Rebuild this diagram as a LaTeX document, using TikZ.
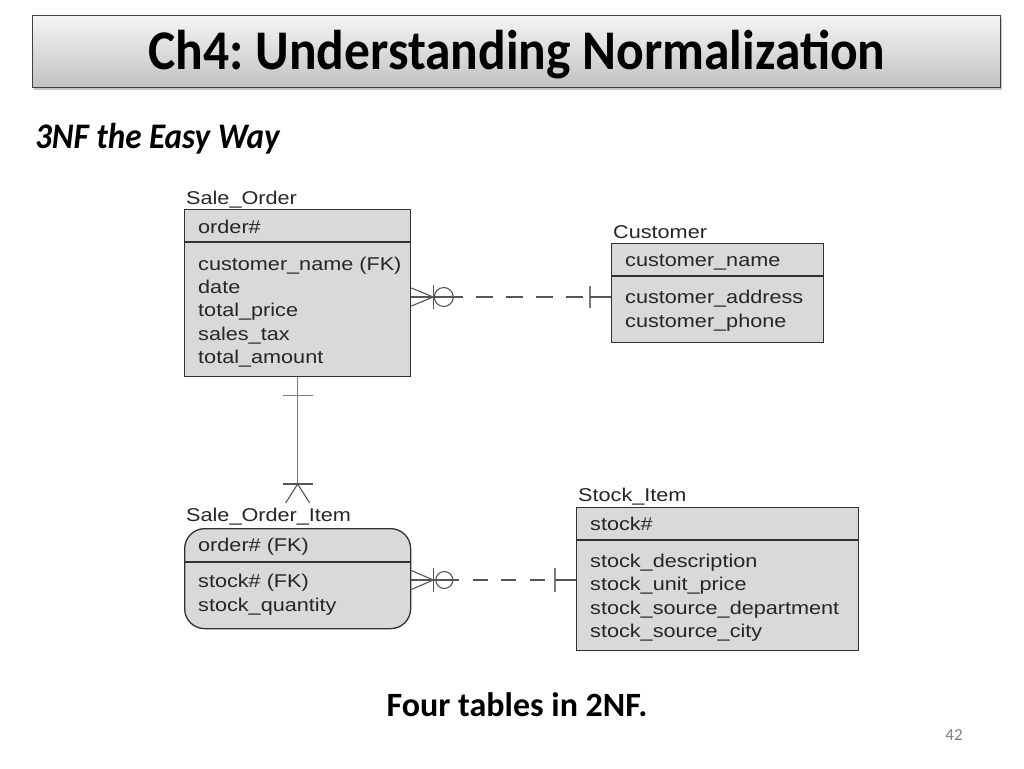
\documentclass[tikz,border=0pt]{standalone}
\usepackage{fontspec}
\setmainfont{Carlito}
\newfontfamily\titlefont[FakeStretch=0.92]{Carlito}
\newfontfamily\erfont[FakeStretch=1.17]{Liberation Sans}
\usetikzlibrary{calc,shadows}
\definecolor{boxfill}{HTML}{D9D9D9}
\definecolor{boxline}{HTML}{303030}
\definecolor{ertext}{HTML}{262626}
\definecolor{connline}{HTML}{555555}
\definecolor{barline}{HTML}{7A7A7A}
\frenchspacing
\begin{document}
\begin{tikzpicture}[x=1pt,y=-1pt,
  entity/.style={draw=boxline, line width=1.3pt, fill=boxfill, rectangle, inner sep=0pt, anchor=north west},
  sepline/.style={draw=boxline, line width=1.3pt},
  ertxt/.style={font=\erfont\fontsize{18.5}{22}\selectfont, text=ertext, inner sep=0pt, anchor=base west},
  conn/.style={draw=connline, line width=1.1pt},
  softbar/.style={draw=barline, line width=1.4pt},
]
\useasboundingbox (0,0) rectangle (1024,768);
\fill[white] (0,0) rectangle (1024,768);

% title bar
\node[draw=black!75, line width=0.9pt, top color=black!4, bottom color=black!24,
      minimum width=968pt, minimum height=72pt, inner sep=0pt, anchor=north west,
      drop shadow={shadow xshift=1.5pt, shadow yshift=-2.5pt, opacity=0.45}] (bar) at (32,15) {};
\node[font=\titlefont\fontsize{56}{64}\selectfont\bfseries, anchor=base, inner sep=0pt] (title) at (517,70) {Ch4: Understanding Normalization};
\node[font=\titlefont\fontsize{36}{42}\selectfont\bfseries\itshape, anchor=base west, inner sep=0pt] (sub) at (35,148) {3NF the Easy Way};
\node[font=\fontsize{34}{40}\selectfont\bfseries, anchor=base, inner sep=0pt] (cap) at (517,716) {Four tables in 2NF.};
\node[font=\fontsize{17}{20}\selectfont, text=black!50, anchor=base, inner sep=0pt] (pg) at (954,740) {42};

% entities
\node[entity, minimum width=226pt, minimum height=167pt] (so) at (184,209) {};
\draw[sepline] (so.west |- 0,242) -- (so.east |- 0,242);
\node[entity, minimum width=212pt, minimum height=99pt] (cu) at (611,243) {};
\draw[sepline] (cu.west |- 0,276) -- (cu.east |- 0,276);
\node[entity, rounded corners=20pt, minimum width=226pt, minimum height=100pt] (soi) at (184,528) {};
\draw[sepline] (soi.west |- 0,562) -- (soi.east |- 0,562);
\node[entity, minimum width=282pt, minimum height=143pt] (si) at (576,507) {};
\draw[sepline] (si.west |- 0,540) -- (si.east |- 0,540);

% Sale_Order texts
\node[ertxt] (so-l) at (186,204.5) {Sale\_Order};
\node[ertxt] (so-k) at (198,233.5) {order\#};
\node[ertxt] (so-1) at (198,270.5) {customer\_name (FK)};
\node[ertxt] (so-2) at (198,293.7) {date};
\node[ertxt] (so-3) at (198,316.9) {total\_price};
\node[ertxt] (so-4) at (198,340.1) {sales\_tax};
\node[ertxt] (so-5) at (198,363.3) {total\_amount};

% Customer texts
\node[ertxt] (cu-l) at (613,238.5) {Customer};
\node[ertxt] (cu-k) at (625,266.5) {customer\_name};
\node[ertxt] (cu-1) at (625,303.5) {customer\_address};
\node[ertxt] (cu-2) at (625,327.5) {customer\_phone};

% Sale_Order_Item texts
\node[ertxt] (soi-l) at (186,521.5) {Sale\_Order\_Item};
\node[ertxt] (soi-k) at (198,551.5) {order\# (FK)};
\node[ertxt] (soi-1) at (198,587.5) {stock\# (FK)};
\node[ertxt] (soi-2) at (198,611.5) {stock\_quantity};

% Stock_Item texts
\node[ertxt] (si-l) at (578,501.5) {Stock\_Item};
\node[ertxt] (si-k) at (590,530.5) {stock\#};
\node[ertxt] (si-1) at (590,567.5) {stock\_description};
\node[ertxt] (si-2) at (590,590.8) {stock\_unit\_price};
\node[ertxt] (si-3) at (590,614.1) {stock\_source\_department};
\node[ertxt] (si-4) at (590,637.4) {stock\_source\_city};

% connector Sale_Order -- Customer
\coordinate (c1a) at (so.east |- 0,297);
\coordinate (c1b) at (cu.west |- 0,297);
\coordinate (c1s) at ($(c1a)+(52,0)$);
\coordinate (c1t) at ($(c1b)+(-21,0)$);
\draw[conn] (c1a) -- (c1s);
\draw[conn] ($(c1a)+(0,-9)$) -- ($(c1a)+(22,0)$) -- ($(c1a)+(0,9)$);
\draw[conn] ($(c1a)+(22,-12)$) -- ($(c1a)+(22,12)$);
\draw[conn] ($(c1a)+(32.5,0)$) circle[radius=9.5pt];
\draw[conn, dash pattern=on 17pt off 13pt, dash phase=17pt] (c1s) -- (c1t);
\draw[softbar] ($(c1t)+(0,-11)$) -- ($(c1t)+(0,11)$);
\draw[conn] (c1t) -- (c1b);

% connector Sale_Order -- Sale_Order_Item
\coordinate (c2b) at ($(soi.north)+(0,-44)$);
\draw[conn, draw=barline] (so.south) -- (c2b);
\draw[conn, draw=barline] ($(so.south)+(-15,18)$) -- ++(30,0);
\draw[conn] ($(c2b)+(-15,0)$) -- ++(30,0);
\draw[conn] ($(c2b)+(-12,19)$) -- (c2b) -- ($(c2b)+(12,19)$);

% connector Sale_Order_Item -- Stock_Item
\coordinate (c3a) at (soi.east |- 0,580);
\coordinate (c3b) at (si.west |- 0,580);
\coordinate (c3s) at ($(c3a)+(48,0)$);
\coordinate (c3t) at ($(c3b)+(-21,0)$);
\draw[conn] (c3a) -- (c3s);
\draw[conn] ($(c3a)+(0,-9.5)$) -- ($(c3a)+(22,0)$) -- ($(c3a)+(0,9.5)$);
\draw[conn] ($(c3a)+(22,-12)$) -- ($(c3a)+(22,12)$);
\draw[conn] ($(c3a)+(33,0)$) circle[radius=8.5pt];
\draw[conn, dash pattern=on 15pt off 13.5pt, dash phase=15pt] (c3s) -- (c3t);
\draw[softbar] ($(c3t)+(0,-12)$) -- ($(c3t)+(0,12)$);
\draw[conn] (c3t) -- (c3b);
\end{tikzpicture}
\end{document}
